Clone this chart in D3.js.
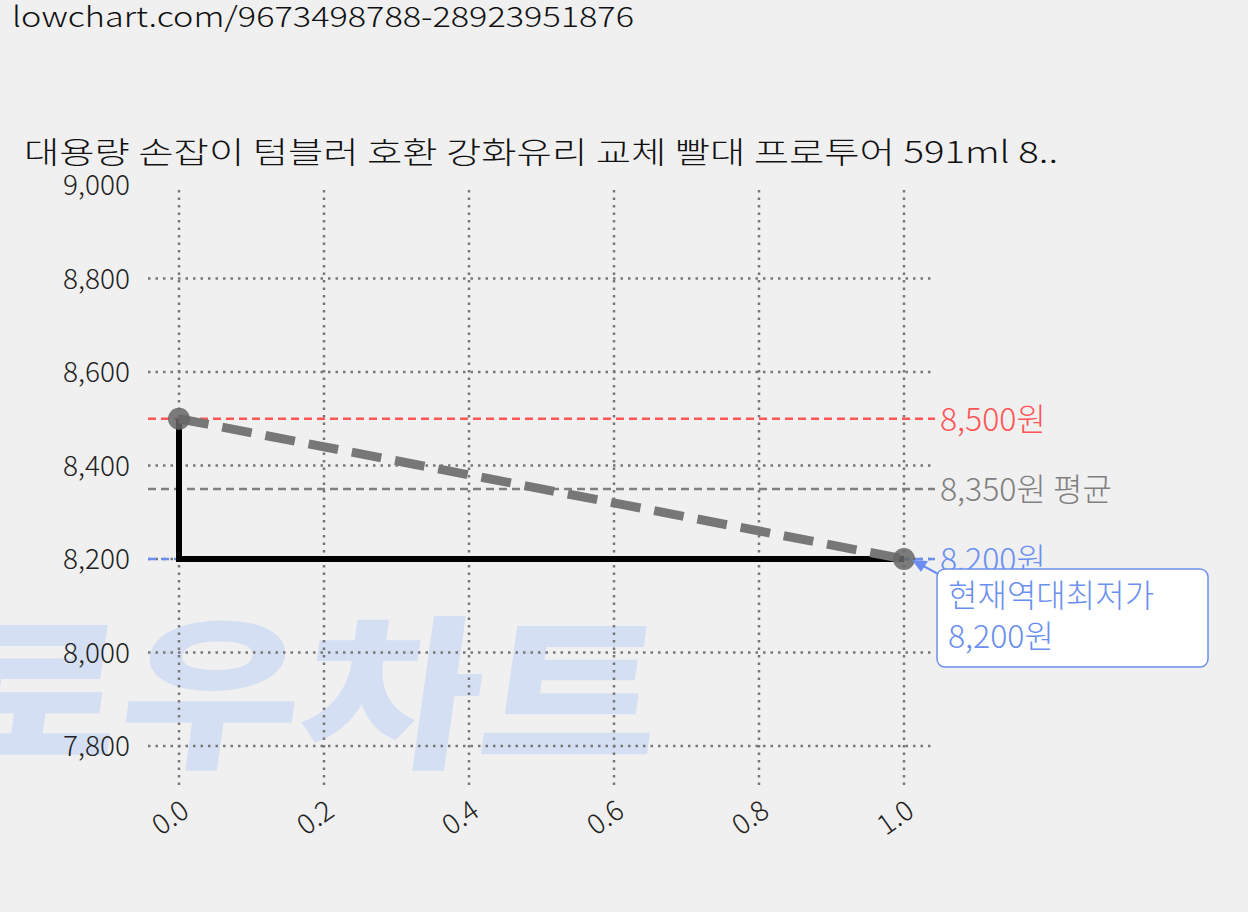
<!DOCTYPE html>
<html><head><meta charset="utf-8">
<script src="https://cdn.jsdelivr.net/npm/d3@7"></script>
<style>body{margin:0;background:#f0f0f0;font-family:"Noto Sans CJK KR","Noto Sans",sans-serif;}</style>
</head><body><div id="chart"></div>
<script>
// data
var xs = [0, 1];
var prices = [8500, 8200];
var xTicks = [0, 0.2, 0.4, 0.6, 0.8, 1.0];
var yTicks = [7800, 8000, 8200, 8400, 8600, 8800, 9000];
var maxPrice = 8500, avgPrice = 8350, minPrice = 8200;

var svg = d3.select("#chart").append("svg").attr("width", 1248).attr("height", 912);

var x = d3.scaleLinear().domain([0, 1]).range([179, 904]);
var y = d3.scaleLinear().domain([8200, 9000]).range([559, 185]);
var left = 148, right = 935, bottom = 785;

// watermark
svg.append("text").attr("x", 400).attr("y", 755)
  .attr("text-anchor", "middle")
  .attr("transform", "skewX(-8)")
  .attr("font-size", 165).attr("font-weight", 900)
  .attr("textLength", 720).attr("lengthAdjust", "spacingAndGlyphs")
  .attr("fill", "#d5dff3").text("로우차트");

svg.append("text").attr("x", 12).attr("y", 27).attr("font-size", 28).attr("font-weight", 300)
  .attr("textLength", 622).attr("lengthAdjust", "spacingAndGlyphs").attr("fill", "#111")
  .text("lowchart.com/9673498788-28923951876");
svg.append("text").attr("x", 24).attr("y", 163).attr("font-size", 30).attr("font-weight", 300)
  .attr("textLength", 1034).attr("lengthAdjust", "spacingAndGlyphs").attr("fill", "#111")
  .text("대용량 손잡이 텀블러 호환 강화유리 교체 빨대 프로투어 591ml 8..");

// grid
var g = svg.append("g");
yTicks.filter(function(d){return d < 9000;}).forEach(function(t){
  g.append("line").attr("x1", left).attr("x2", right).attr("y1", y(t)).attr("y2", y(t))
    .attr("stroke", "#777").attr("stroke-width", 2.5).attr("stroke-dasharray", "2.5,5");
});
xTicks.forEach(function(t){
  g.append("line").attr("x1", x(t)).attr("x2", x(t)).attr("y1", 190).attr("y2", bottom)
    .attr("stroke", "#777").attr("stroke-width", 2.5).attr("stroke-dasharray", "2.5,5");
});

// y labels
yTicks.forEach(function(t){
  svg.append("text").attr("x", 130).attr("y", y(t) + 10).attr("text-anchor", "end")
    .attr("font-size", 28).attr("font-weight", 300).attr("fill", "#222").text(d3.format(",")(t));
});
// x labels
xTicks.forEach(function(t){
  svg.append("text").attr("transform", "translate(" + (x(t) + 12) + ",815) rotate(-35)")
    .attr("text-anchor", "end").attr("font-size", 28).attr("font-weight", 300).attr("fill", "#222").text(t.toFixed(1));
});

// reference lines
function ref(v, color, label) {
  svg.append("line").attr("x1", left).attr("x2", right).attr("y1", y(v)).attr("y2", y(v))
    .attr("stroke", color).attr("stroke-width", 2.5).attr("stroke-dasharray", "8,5");
  svg.append("text").attr("x", 940).attr("y", y(v) + 12).attr("font-size", 32).attr("font-weight", 300)
    .attr("fill", color).text(label);
}
ref(maxPrice, "#ff5555", "8,500원");
ref(avgPrice, "#808080", "8,350원 평균");
ref(minPrice, "#6a8ff0", "8,200원");

// step line
svg.append("path")
  .attr("d", "M" + x(0) + "," + y(prices[0]) + "L" + x(0) + "," + y(prices[1]) + "L" + x(1) + "," + y(prices[1]))
  .attr("fill", "none").attr("stroke", "#000").attr("stroke-width", 6);

// dashed trend
var line = d3.line().x(function(d, i){return x(xs[i]);}).y(function(d){return y(d);});
svg.append("path").datum(prices).attr("d", line).attr("fill", "none")
  .attr("stroke", "#777").attr("stroke-width", 9).attr("stroke-dasharray", "30,14");

svg.selectAll(".pt").data(prices).enter().append("circle")
  .attr("cx", function(d, i){return x(xs[i]);}).attr("cy", function(d){return y(d);})
  .attr("r", 11).attr("fill", "#666").attr("opacity", 0.85);

// annotation
svg.append("line").attr("x1", 940).attr("y1", 575).attr("x2", 916).attr("y2", 562)
  .attr("stroke", "#6a8ff0").attr("stroke-width", 2);
svg.append("path").attr("d", "M912,560 L928,561 L921,572 Z").attr("fill", "#6a8ff0");
svg.append("rect").attr("x", 937).attr("y", 569).attr("width", 271).attr("height", 98)
  .attr("rx", 8).attr("fill", "#fff").attr("stroke", "#6a8ff0").attr("stroke-width", 1.5);
svg.append("text").attr("x", 948).attr("y", 607).attr("font-size", 32).attr("font-weight", 300)
  .attr("fill", "#6a8ff0").text("현재역대최저가");
svg.append("text").attr("x", 948).attr("y", 648).attr("font-size", 32).attr("font-weight", 300)
  .attr("fill", "#6a8ff0").text("8,200원");
</script></body></html>
